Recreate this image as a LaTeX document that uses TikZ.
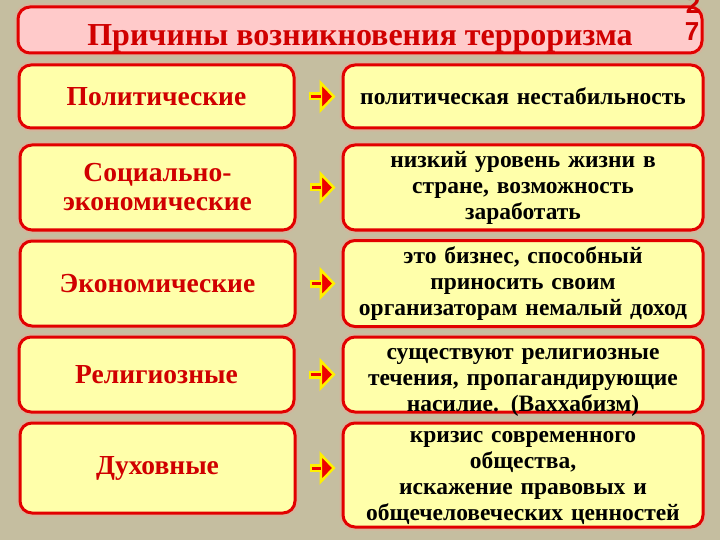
\documentclass[tikz,border=0pt]{standalone}
\usepackage{fontspec}
\setmainfont{Liberation Serif}
\newfontfamily\numfont{Liberation Sans}
\usetikzlibrary{arrows.meta}
\definecolor{bgkhaki}{RGB}{197,190,160}
\definecolor{boxred}{RGB}{226,0,0}
\definecolor{causered}{RGB}{208,0,0}
\definecolor{boxyellow}{RGB}{255,255,170}
\definecolor{titlepink}{RGB}{255,202,202}
\definecolor{haze}{RGB}{232,170,150}
\definecolor{arrowyellow}{RGB}{255,240,0}
\definecolor{arrowred}{RGB}{238,0,0}
\begin{document}
\begin{tikzpicture}[x=1pt,y=-1pt,
  box/.style={draw=boxred,line width=3pt,rounded corners=12pt,align=center,inner sep=2pt,
    preaction={draw=haze,line width=7pt,opacity=0.45}},
  title node/.style={box,fill=titlepink,minimum width=684pt,minimum height=46pt,
    font=\bfseries\fontsize{32}{34}\selectfont,text=causered},
  cause node/.style={box,fill=boxyellow,minimum width=275pt,text width=270pt,
    font=\bfseries\fontsize{27.5}{29}\selectfont,text=causered},
  effect node/.style={box,fill=boxyellow,minimum width=360pt,text width=356pt,
    font=\bfseries\fontsize{23.5}{26}\selectfont,text=black}]
  \useasboundingbox (0,0) rectangle (720,540);
  \fill[bgkhaki] (0,0) rectangle (720,540);

  \node[title node] (title) at (360,30) {\raisebox{-8pt}[16pt][0pt]{Причины возникновения терроризма}};
  \node[font=\numfont\bfseries\fontsize{26}{28}\selectfont,text=causered] (num2) at (693,4) {2};
  \node[font=\numfont\bfseries\fontsize{26}{28}\selectfont,text=causered] (num7) at (692,32) {7};

  % causes
  \node[cause node,minimum height=63pt] (l1) at (156.5,96.5) {Политические};
  \node[cause node,minimum height=85pt] (l2) at (157.5,187.5) {Социально-\\экономические};
  \node[cause node,minimum height=85pt] (l3) at (157.5,283.5) {Экономические};
  \node[cause node,minimum height=75pt] (l4) at (156.5,374.5) {Религиозные};
  \node[cause node,minimum height=90pt] (l5) at (157.5,468) {Духовные};

  % consequences
  \node[effect node,minimum height=63pt] (r1) at (523,96.5) {политическая нестабильность};
  \node[effect node,minimum height=85pt] (r2) at (523,187.5) {низкий уровень жизни в\\стране, возможность\\заработать};
  \node[effect node,minimum height=86pt] (r3) at (523,283.5) {это бизнес, способный\\приносить своим\\организаторам немалый доход};
  \node[effect node,minimum height=75pt,text depth=41pt] (r4) at (523,374.5) {существуют религиозные\\течения, пропагандирующие\\насилие. (Ваххабизм)};
  \node[effect node,minimum height=104pt,text depth=76pt] (r5) at (523,475) {кризис современного\\общества,\\искажение правовых и\\общечеловеческих ценностей};

  \foreach \i in {1,...,5} {
    \draw[arrowyellow,line width=8pt,shorten <=13pt,shorten >=6pt,
      -{Triangle[length=16pt,width=33pt,fill=arrowred,line width=2.5pt]}]
      (l\i.east) -- (r\i.west |- l\i.east);
    \draw[arrowred,line width=3pt,shorten <=15pt,shorten >=21pt]
      (l\i.east) -- (r\i.west |- l\i.east);
  }
\end{tikzpicture}
\end{document}
